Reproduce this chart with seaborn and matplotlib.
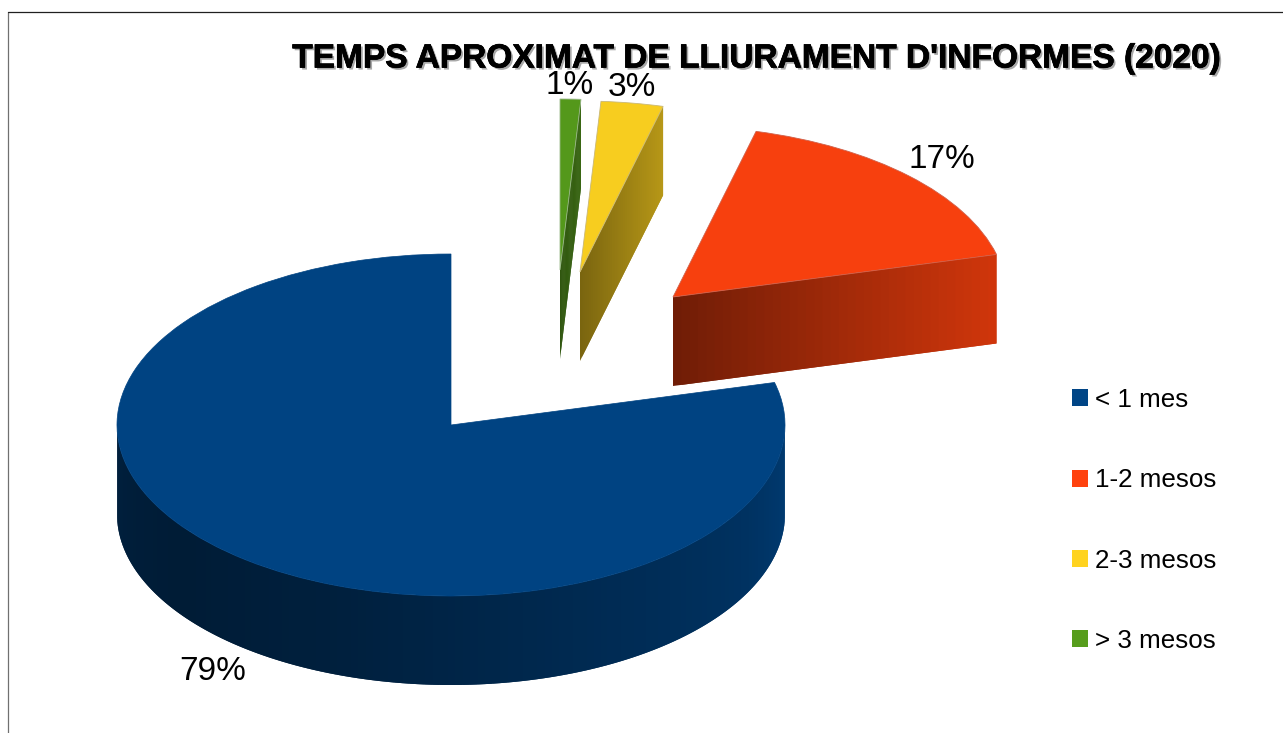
import numpy as np
import matplotlib
matplotlib.use("Agg")
import matplotlib.pyplot as plt
import matplotlib.patheffects as pe
from matplotlib.collections import PolyCollection
from matplotlib.patches import Patch
from matplotlib.lines import Line2D
import seaborn as sns

# --- data ---
categories = ["< 1 mes", "1-2 mesos", "2-3 mesos", "> 3 mesos"]
shares = [79, 17, 3, 1]
title = "TEMPS APROXIMAT DE LLIURAMENT D'INFORMES (2020)"

# --- style / layout ---
base_hex = ["#004586", "#ff420e", "#ffd320", "#579d1c"]
W, H = 1283, 733
CX, CY, RX, RY, DEPTH = 451, 425, 334, 171, 89
apex_px = [(451, 425), (673, 297), (580, 272), (560, 270)]
label_px = [(213, 671), (942, 159), (632, 88), (570, 86)]

sns.set_theme(style="white")
plt.rcParams["font.family"] = ["Liberation Sans", "DejaVu Sans"]
palette = sns.color_palette(base_hex)
top_tint = 0.97


def dx(px):
    return (px - CX) / RX


def dy(py):
    return (CY - py) / RY


fig = plt.figure(figsize=(W / 100, H / 100), dpi=100, facecolor="white")
ax = fig.add_axes([0, 0, 1, 1])
top_colors = [tuple(np.array(c) * top_tint) for c in palette]
wedges, _ = ax.pie(shares, colors=top_colors, startangle=90, counterclock=True, radius=1)
ax.set_aspect("auto")
ax.set_xlim(dx(0), dx(W))
ax.set_ylim(dy(H), dy(0))
ax.axis("off")

depth = DEPTH / RY


def strip(xs, ys, factors, color, z):
    # every quad reaches over the next one, so no seams show between them
    quads, cols = [], []
    n = len(xs)
    for i in range(n - 1):
        j = min(i + 2, n - 1)
        idx = range(i, j + 1)
        upper = [(xs[k], ys[k]) for k in idx]
        lower = [(xs[k], ys[k] - depth) for k in reversed(idx)]
        quads.append(upper + lower)
        cols.append(tuple(np.array(color) * factors[i]))
    ax.add_collection(PolyCollection(quads, facecolors=cols, edgecolors="none",
                                     linewidths=0, zorder=z), autolim=False)


# main slice: the outer rim, lower half of the ellipse
wedges[0].set_center((dx(apex_px[0][0]), dy(apex_px[0][1])))
wedges[0].set_zorder(2)
wedges[0].set_edgecolor(top_colors[0])
wedges[0].set_linewidth(0.5)
deg = np.linspace(180, 360, 140)
ang = np.radians(deg)
strip(np.cos(ang), np.sin(ang),
      np.interp(deg, [180, 215, 250, 290, 330, 360], [0.46, 0.40, 0.46, 0.60, 0.72, 0.86]),
      palette[0], 1)

# exploded slices: the cut face along theta1
side_range = [None, (0.44, 0.82), (0.48, 0.72), (0.55, 0.65)]
edge_col = [None, "#d0604a", "#c9b878", "#9ab88a"]
for i in range(1, 4):
    w = wedges[i]
    ax0, ay0 = dx(apex_px[i][0]), dy(apex_px[i][1])
    w.set_center((ax0, ay0))
    w.set_zorder(2 * i + 2)
    w.set_edgecolor(edge_col[i])
    w.set_linewidth(0.6)
    t = np.linspace(0, 1, 40)
    a = np.radians(w.theta1)
    strip(ax0 + t * np.cos(a), ay0 + t * np.sin(a),
          np.interp(t, [0, 1], side_range[i]), palette[i], 2 * i + 1)

# percentage labels
for v, (px, py) in zip(shares, label_px):
    ax.text(dx(px), dy(py), f"{v}%", fontsize=24, color="black",
            ha="center", va="center", zorder=20)

# title with its shadow
ax.text(dx(757), dy(59), title, fontsize=24.1, fontweight="bold", color="black",
        ha="center", va="center", zorder=21,
        path_effects=[pe.withSimplePatchShadow(offset=(1.5, -1.5), shadow_rgbFace="#a8a8a8", alpha=1),
                      pe.withStroke(linewidth=0.5, foreground="black")])

# legend
handles = [Patch(facecolor=c, edgecolor="none") for c in palette]
ax.legend(handles, categories, loc="upper left", frameon=False,
          bbox_to_anchor=(1072 / W, 1 - 388 / H), bbox_transform=fig.transFigure,
          fontsize=18.7, borderpad=0, borderaxespad=0, handlelength=0.62,
          handleheight=0.62, handletextpad=0.28, labelspacing=2.166, labelcolor="black")

# chart frame, cut by the image edge
fig.add_artist(Line2D([8 / W, 8 / W], [0, 1 - 12 / H], color="#707070", lw=0.9))
fig.add_artist(Line2D([8 / W, 1], [1 - 12 / H, 1 - 12 / H], color="#202020", lw=0.9))

fig.savefig("out.png", dpi=100, facecolor="white")
